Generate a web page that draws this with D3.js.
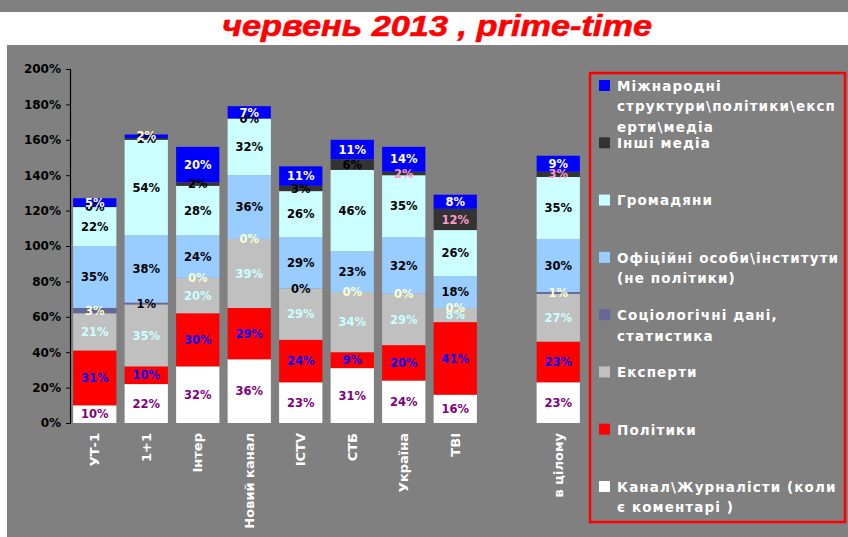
<!DOCTYPE html>
<html>
<head>
<meta charset="utf-8">
<script src="https://cdn.jsdelivr.net/npm/d3@7"></script>
<style>
  body { margin: 0; background: #fff; }
  svg { display: block; font-family: "DejaVu Sans", sans-serif; }
</style>
</head>
<body>
<svg id="chart" width="848" height="537"></svg>
<script>
// categories (bottom of chart), 'gap' is the empty slot before the total
const categories = ['УТ-1', '1+1', 'Інтер', 'Новий канал', 'ICTV', 'СТБ', 'Україна', 'ТВІ', 'в цілому'];
const slots = ['УТ-1', '1+1', 'Інтер', 'Новий канал', 'ICTV', 'СТБ', 'Україна', 'ТВІ', 'gap', 'в цілому'];

// series values, % (stack order bottom -> top)
const kanal       = [10, 22, 32, 36, 23, 31, 24, 16, 23];
const polityky    = [31, 10, 30, 29, 24,  9, 20, 41, 23];
const eksperty    = [21, 35, 20, 39, 29, 34, 29,  8, 27];
const sotsio      = [ 3,  1,  0,  0,  0,  0,  0,  0,  1];
const ofitsiini   = [35, 38, 24, 36, 29, 23, 32, 18, 30];
const hromadiany  = [22, 54, 28, 32, 26, 46, 35, 26, 35];
const inshiMedia  = [ 0,  1,  2,  0,  3,  6,  2, 12,  3];
const mizhnarodni = [ 5,  2, 20,  7, 11, 11, 14,  8,  9];

const seriesKeys = ['kanal', 'polityky', 'eksperty', 'sotsio', 'ofitsiini', 'hromadiany', 'inshiMedia', 'mizhnarodni'];
const seriesValues = { kanal, polityky, eksperty, sotsio, ofitsiini, hromadiany, inshiMedia, mizhnarodni };

// legend text, wrapped like the original
const legendLines = {
    mizhnarodni: ['Міжнародні', 'структури\\політики\\експ', 'ерти\\медіа'],
    inshiMedia: ['Інші медіа'],
    hromadiany: ['Громадяни'],
    ofitsiini: ['Офіційні особи\\інститути', '(не політики)'],
    sotsio: ['Соціологічні дані,', 'статистика'],
    eksperty: ['Експерти'],
    polityky: ['Політики'],
    kanal: ['Канал\\Журналісти (коли', 'є коментарі )'],
};

const yTicks = [0, 20, 40, 60, 80, 100, 120, 140, 160, 180, 200];
const title = 'червень 2013 , prime-time';

// styles
const fills = {
    kanal: '#FFFFFF', polityky: '#FF0000', eksperty: '#C0C0C0', sotsio: '#666699',
    ofitsiini: '#99CCFF', hromadiany: '#CCFFFF', inshiMedia: '#333333', mizhnarodni: '#0000FF',
};
const labelColors = {
    kanal: '#800080', polityky: '#0000FF', eksperty: '#CCFFFF', sotsio: '#FFFFCC',
    ofitsiini: '#000000', hromadiany: '#000000', inshiMedia: '#000000', mizhnarodni: '#FFFFDD',
};
const labelOverrides = [
    { key: 'sotsio', cats: ['1+1', 'ICTV'], color: '#000000' },
    { key: 'inshiMedia', cats: ['Україна', 'ТВІ', 'в цілому'], color: '#FF99CC' },
];

const table = categories.map((cat, i) => {
    const row = { cat };
    seriesKeys.forEach((k) => { row[k] = seriesValues[k][i]; });
    return row;
});

const svg = d3.select('#chart');

// background pieces
svg.append('rect').attr('x', 0).attr('y', 0).attr('width', 848).attr('height', 537).attr('fill', '#808080');
svg.append('rect').attr('x', 0).attr('y', 12).attr('width', 848).attr('height', 33).attr('fill', '#FFFFFF');
svg.append('rect').attr('x', 0).attr('y', 45).attr('width', 7).attr('height', 492).attr('fill', '#FFFFFF');

svg.append('text')
    .attr('x', 437)
    .attr('y', 36)
    .attr('text-anchor', 'middle')
    .attr('textLength', 430)
    .attr('lengthAdjust', 'spacingAndGlyphs')
    .style('font-family', '"Liberation Sans", Arial, sans-serif')
    .style('font-weight', 'bold')
    .style('font-style', 'italic')
    .style('font-size', '29px')
    .attr('fill', '#FF0000')
    .attr('stroke', '#FF0000')
    .attr('stroke-width', 0.6)
    .text(title);

const xScale = d3.scaleBand()
    .domain(slots)
    .range([69, 584])
    .paddingInner(0.16)
    .paddingOuter(0.08);

const yScale = d3.scaleLinear().domain([0, 200]).range([423, 69]);

// y axis
const yAxis = svg.append('g')
    .attr('transform', 'translate(70, 0)')
    .call(d3.axisLeft(yScale).tickValues(yTicks).tickSize(4).tickPadding(5).tickFormat((d) => d + '%'));
yAxis.select('.domain').attr('stroke', '#000').attr('stroke-width', 1.2);
yAxis.selectAll('.tick line').attr('stroke', '#000');
yAxis.selectAll('text')
    .attr('fill', '#000')
    .style('font-size', '12px')
    .style('font-weight', 'bold')
    .style('font-family', '"DejaVu Sans", sans-serif');

const stacked = d3.stack().keys(seriesKeys)(table);

const layers = svg.append('g')
    .selectAll('g')
    .data(stacked)
    .join('g')
    .attr('fill', (d) => fills[d.key]);

layers.selectAll('rect')
    .data((d) => d)
    .join('rect')
    .attr('x', (d) => xScale(d.data.cat))
    .attr('width', xScale.bandwidth())
    .attr('y', (d) => yScale(d[1]))
    .attr('height', (d) => yScale(d[0]) - yScale(d[1]));

// data labels
function labelColor(key, cat) {
    const o = labelOverrides.find((r) => r.key === key && r.cats.includes(cat));
    return o ? o.color : labelColors[key];
}

const labels = svg.append('g');
stacked.forEach((layer) => {
    layer.forEach((d) => {
        labels.append('text')
            .attr('x', xScale(d.data.cat) + xScale.bandwidth() / 2)
            .attr('y', yScale((d[0] + d[1]) / 2))
            .attr('dy', '0.36em')
            .attr('text-anchor', 'middle')
            .style('font-size', '11.5px')
            .style('font-weight', 'bold')
            .attr('fill', labelColor(layer.key, d.data.cat))
            .text(d.data[layer.key] + '%');
    });
});

// category labels, rotated
svg.append('g')
    .selectAll('text')
    .data(categories)
    .join('text')
    .attr('transform', (d) => `translate(${xScale(d) + xScale.bandwidth() / 2}, 433) rotate(-90)`)
    .attr('dy', '0.36em')
    .attr('text-anchor', 'end')
    .attr('fill', '#FFFFFF')
    .style('font-size', '13px')
    .style('font-weight', 'bold')
    .text((d) => d);

// legend
svg.append('rect')
    .attr('x', 590).attr('y', 73)
    .attr('width', 255).attr('height', 449)
    .attr('fill', 'none')
    .attr('stroke', '#FF0000')
    .attr('stroke-width', 2.5);

const legendKeys = seriesKeys.slice().reverse();
const legendY = d3.scalePoint().domain(legendKeys).range([86, 487]);

const items = svg.append('g')
    .selectAll('g')
    .data(legendKeys)
    .join('g')
    .attr('transform', (d) => `translate(0, ${legendY(d)})`);

items.append('rect')
    .attr('x', 599).attr('y', -6)
    .attr('width', 11).attr('height', 11)
    .attr('fill', (d) => fills[d]);

items.append('text')
    .attr('x', 617)
    .attr('fill', '#FFFFFF')
    .style('font-size', '13.5px')
    .style('font-weight', 'bold')
    .style('letter-spacing', '1.1px')
    .selectAll('tspan')
    .data((d) => legendLines[d])
    .join('tspan')
    .attr('x', 617)
    .attr('y', (d, i) => i * 20.5)
    .attr('dy', '0.36em')
    .text((d) => d);
</script>
</body>
</html>
